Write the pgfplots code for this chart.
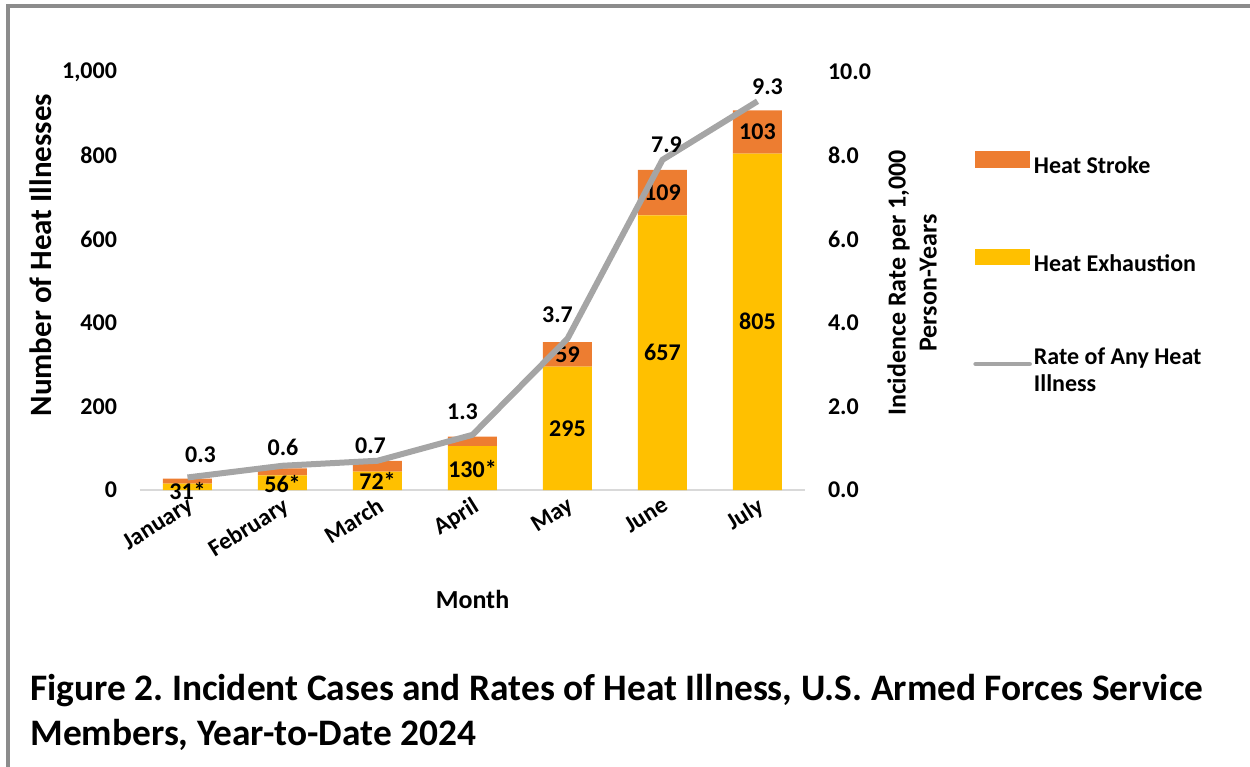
\documentclass[border=0pt]{standalone}
\usepackage{fontspec}
\setmainfont{Carlito}
\usepackage{pgfplots}
\pgfplotsset{compat=1.18}
\definecolor{hsorange}{HTML}{ED7D31}
\definecolor{hegold}{HTML}{FFC000}
\definecolor{lgray}{HTML}{A5A5A5}
\definecolor{axisgray}{HTML}{D9D9D9}
\definecolor{framegray}{HTML}{8C8C8C}
\newcommand\tickfont{\bfseries\fontsize{12}{14}\selectfont}
\newcommand\labelfont{\bfseries\fontsize{13}{15.5}\selectfont}
\newcommand\ylabelfont{\bfseries\fontsize{15.5}{18}\selectfont}
\newcommand\legfont{\bfseries\fontsize{12}{13.5}\selectfont}
\newcommand\titlefont{\bfseries\fontsize{18.7}{22.5}\selectfont}
\frenchspacing
\begin{document}
\begin{tikzpicture}[x=0.5pt,y=-0.5pt]
\path[use as bounding box] (0,0) rectangle (1250,767);
\draw[framegray, line width=2pt] (8,767) -- (8,6) -- (1250,6);
\coordinate (O) at (140,490);

% bars
\begin{axis}[
  at={(O)}, anchor=south west,
  scale only axis, width=332.5pt, height=209pt,
  xmin=-0.5, xmax=6.5, ymin=0, ymax=1000,
  clip=false,
  ybar stacked, bar width=24.5pt,
  axis x line*=bottom, axis y line*=left,
  x axis line style={draw=axisgray, line width=1pt, -},
  y axis line style={draw=none},
  major tick length=0pt,
  xtick={0,...,6},
  xticklabels={January,February,March,April,May,June,July},
  x tick label style={rotate=32, anchor=north east, font=\tickfont, inner sep=2pt},
  ytick={0,200,...,1000},
  y tick label style={font=\tickfont, xshift=-8pt},
  /pgf/number format/assume math mode=true,
  /pgf/number format/1000 sep={,},
  ylabel={Number of Heat Illnesses},
  ylabel style={font=\ylabelfont, at={(axis description cs:-0.150,0.562)}, anchor=center},
  xlabel={Month},
  xlabel style={font=\labelfont, at={(axis description cs:0.5,-0.263)}, anchor=center},
]
\addplot[fill=hegold, draw=none] coordinates {(0,15) (1,35) (2,44) (3,105) (4,295) (5,657) (6,805)};
\addplot[fill=hsorange, draw=none] coordinates {(0,12) (1,17) (2,26) (3,23) (4,59) (5,109) (6,103)};
\end{axis}

% bar labels
\begin{axis}[
  at={(O)}, anchor=south west,
  scale only axis, width=332.5pt, height=209pt,
  xmin=-0.5, xmax=6.5, ymin=0, ymax=1000,
  clip=false, hide axis,
]
\addplot[draw=none, nodes near coords, point meta=explicit symbolic,
  nodes near coords style={anchor=center, font=\tickfont, text=black, inner sep=0pt}]
  coordinates {(0,-2)[31*] (1,14)[56*] (2,21.5)[72*] (3,51)[130*]
               (4,147.5)[295] (4,324.5)[59] (5,328.5)[657] (5,711.5)[109]
               (6,402.5)[805] (6,856.5)[103]};
\end{axis}

% rate line
\begin{axis}[
  at={(O)}, anchor=south west,
  scale only axis, width=332.5pt, height=209pt,
  xmin=-0.5, xmax=6.5, ymin=0, ymax=10,
  clip=false,
  axis y line*=right, axis x line=none,
  y axis line style={draw=none},
  major tick length=0pt,
  ytick={0,2,...,10},
  y tick label style={font=\tickfont, xshift=8pt},
  /pgf/number format/fixed,
  /pgf/number format/fixed zerofill,
  /pgf/number format/precision=1,
  /pgf/number format/assume math mode=true,
  ylabel={Incidence Rate per 1,000\\Person-Years},
  ylabel style={font=\labelfont, align=center, at={(axis description cs:1.161,0.495)}, anchor=center},
  legend cell align=left,
  legend style={at={(axis description cs:1.2526,0.811)}, anchor=north west,
    draw=none, fill=none, font=\legfont, row sep=35pt, inner sep=0pt,
    nodes={inner sep=1pt, align=left}},
]
\addlegendimage{legend image code/.code={\fill[hsorange] (0pt,-0.25pt) rectangle (27pt,7.5pt);}}
\addlegendentry{Heat Stroke}
\addlegendimage{legend image code/.code={\fill[hegold] (0pt,-0.25pt) rectangle (27pt,7.5pt);}}
\addlegendentry{Heat Exhaustion}
\addplot[lgray, line width=3pt, line join=round,
  legend image code/.code={\draw[lgray, line width=2.3pt, line cap=round] (0pt,3.7pt) -- (27pt,3.7pt);}]
  coordinates {(0,0.3) (1,0.58) (2,0.7) (3,1.32) (4,3.62) (5,7.9) (6,9.3)};
\addlegendentry{Rate of Any Heat\\Illness}
\addplot[draw=none, nodes near coords, point meta=explicit symbolic,
  nodes near coords style={anchor=center, font=\tickfont, text=black, inner sep=0pt}]
  coordinates {(0.137,0.837)[0.3] (1.005,1.017)[0.6] (1.926,1.053)[0.7] (2.895,1.866)[1.3]
               (3.895,4.19)[3.7] (5.042,8.25)[7.9] (6.105,9.64)[9.3]};
\end{axis}

\node[anchor=base west, font=\titlefont, align=left, inner sep=0pt] at (30,745)
  {Figure 2. Incident Cases and Rates of Heat Illness, U.S. Armed Forces Service\\Members, Year-to-Date 2024};
\end{tikzpicture}
\end{document}
